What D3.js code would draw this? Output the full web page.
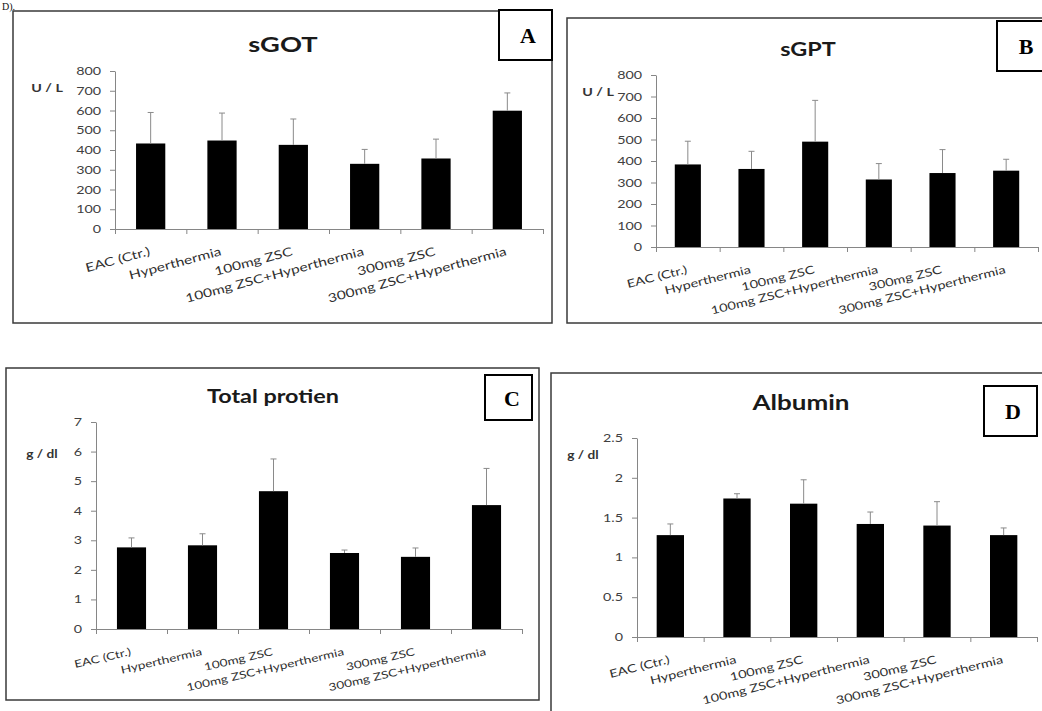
<!DOCTYPE html>
<html><head><meta charset="utf-8">
<script src="https://cdn.jsdelivr.net/npm/d3@7"></script>
<style>body{margin:0;background:#fff} svg{display:block}</style>
</head><body><svg id="c" width="1042" height="711"></svg>
<script>
// ---------- data ----------
const categories = ["EAC (Ctr.)", "Hyperthermia", "100mg ZSC", "100mg ZSC+Hyperthermia", "300mg ZSC", "300mg ZSC+Hyperthermia"];
const sgotMean = [433, 448, 426, 330, 357, 599];
const sgotSD   = [157, 139, 131, 73, 98, 90];
const sgptMean = [384, 363, 490, 314, 344, 355];
const sgptSD   = [108, 82, 192, 74, 109, 53];
const tpMean   = [2.76, 2.83, 4.66, 2.57, 2.44, 4.19];
const tpSD     = [0.32, 0.39, 1.09, 0.10, 0.30, 1.24];
const albMean  = [1.28, 1.74, 1.675, 1.42, 1.40, 1.28];
const albSD    = [0.14, 0.06, 0.30, 0.15, 0.30, 0.09];
const enzymeTicks  = [0, 100, 200, 300, 400, 500, 600, 700, 800];
const proteinTicks = [0, 1, 2, 3, 4, 5, 6, 7];
const albuminTicks = [0, 0.5, 1, 1.5, 2, 2.5];

// ---------- layout / style ----------
const SX = 1.3;
const FONT = "Lato, 'Open Sans', sans-serif";
const SERIF = "'Liberation Serif', 'Times New Roman', serif";
const svg = d3.select("#c");

svg.append("text").attr("x", 2).attr("y", 10).attr("font-family", SERIF)
  .attr("font-size", 10).attr("fill", "#111").text("D).");

const panels = [
  {title: "sGOT", letter: "A", unit: "U / L", mean: sgotMean, sd: sgotSD, ticks: enzymeTicks,
   border: [13, 11, 552, 323], box: [499, 10, 552, 60], letterX: 528, titleX: 283, titleY: 52, titleSize: 21,
   unitX: 47, unitY: 92, unitSize: 11, axisX: 115, axisX2: 543, y0: 229, yTop: 71, labelSize: 12, rot: 15},
  {title: "sGPT", letter: "B", unit: "U / L", mean: sgptMean, sd: sgptSD, ticks: enzymeTicks,
   border: [567, 18, 1050, 323], box: [997, 21, 1050, 71], letterX: 1026, titleX: 808, titleY: 56, titleSize: 18,
   unitX: 598, unitY: 96, unitSize: 11, axisX: 656, axisX2: 1038, y0: 247, yTop: 75, labelSize: 11.2, rot: 14},
  {title: "Total protien", letter: "C", unit: "g / dl", mean: tpMean, sd: tpSD, ticks: proteinTicks,
   border: [6, 368, 539, 700], box: [485, 375, 532, 420], letterX: 512, titleX: 273, titleY: 403, titleSize: 18,
   unitX: 42, unitY: 458, unitSize: 10.5, axisX: 96, axisX2: 522, y0: 629, yTop: 422, labelSize: 10.5, rot: 13},
  {title: "Albumin", letter: "D", unit: "g / dl", mean: albMean, sd: albSD, ticks: albuminTicks,
   border: [551, 373, 1050, 720], box: [984, 386, 1037, 436], letterX: 1013, titleX: 801, titleY: 410, titleSize: 20,
   unitX: 583, unitY: 459, unitSize: 10.5, axisX: 637, axisX2: 1037, y0: 637, yTop: 438, labelSize: 11.2, rot: 14}
];

panels.forEach(p => {
  const g = svg.append("g");
  // panel border
  g.append("rect").attr("x", p.border[0]).attr("y", p.border[1])
    .attr("width", p.border[2] - p.border[0]).attr("height", p.border[3] - p.border[1])
    .attr("fill", "#fff").attr("stroke", "#3a3a3a").attr("stroke-width", 1.5);

  // title
  g.append("text").attr("transform", `translate(${p.titleX},${p.titleY}) scale(${SX},1)`)
    .attr("text-anchor", "middle").attr("font-family", FONT).attr("font-weight", "bold")
    .attr("font-size", p.titleSize).attr("fill", "#1a1a1a").text(p.title);

  // unit
  g.append("text").attr("transform", `translate(${p.unitX},${p.unitY}) scale(${SX},1)`)
    .attr("text-anchor", "middle").attr("font-family", FONT).attr("font-weight", "bold")
    .attr("font-size", p.unitSize).attr("fill", "#333").text(p.unit);

  const top = p.ticks[p.ticks.length - 1];
  const y = d3.scaleLinear().domain([0, top]).range([p.y0, p.yTop]);
  const x = d3.scaleBand().domain(categories).range([p.axisX, p.axisX2])
    .paddingInner(0.59).paddingOuter(0.295);
  const xEdge = d3.scaleLinear().domain([0, categories.length]).range([p.axisX, p.axisX2]);

  // y axis
  const ya = g.append("g").attr("transform", `translate(${p.axisX},0)`)
    .call(d3.axisLeft(y).tickValues(p.ticks).tickSize(5).tickSizeOuter(0).tickFormat(d => String(d)));
  ya.select(".domain").attr("stroke", "#868686");
  ya.selectAll(".tick line").attr("stroke", "#868686");
  ya.selectAll(".tick text").attr("font-family", FONT).attr("font-size", 11).attr("fill", "#404040")
    .attr("x", -14 / SX).attr("transform", `scale(${SX},1)`);

  // x axis (ticks at category boundaries)
  const xa = g.append("g").attr("transform", `translate(0,${p.y0})`)
    .call(d3.axisBottom(xEdge).ticks(categories.length).tickSize(5).tickSizeOuter(0).tickFormat(""));
  xa.select(".domain").attr("stroke", "#868686");
  xa.selectAll(".tick line").attr("stroke", "#868686");

  // bars
  g.selectAll("rect.bar").data(p.mean).enter().append("rect").attr("class", "bar")
    .attr("x", (d, i) => x(categories[i])).attr("width", x.bandwidth())
    .attr("y", d => y(d)).attr("height", d => p.y0 - y(d)).attr("fill", "#000");

  // error bars (upper only)
  const eb = g.selectAll("g.err").data(p.mean).enter().append("g").attr("class", "err")
    .attr("stroke", "#8a8a8a").attr("stroke-width", 1);
  eb.append("line").attr("x1", (d, i) => x(categories[i]) + x.bandwidth() / 2)
    .attr("x2", (d, i) => x(categories[i]) + x.bandwidth() / 2)
    .attr("y1", d => y(d)).attr("y2", (d, i) => y(d + p.sd[i]));
  eb.append("line").attr("x1", (d, i) => x(categories[i]) + x.bandwidth() / 2 - 3)
    .attr("x2", (d, i) => x(categories[i]) + x.bandwidth() / 2 + 3)
    .attr("y1", (d, i) => y(d + p.sd[i])).attr("y2", (d, i) => y(d + p.sd[i]));

  // category labels
  g.selectAll("text.cat").data(categories).enter().append("text").attr("class", "cat")
    .attr("transform", d => `translate(${x(d) + x.bandwidth() / 2},${p.y0 + 26}) rotate(${-p.rot}) scale(${SX},1)`)
    .attr("text-anchor", "end").attr("font-family", FONT).attr("font-size", p.labelSize)
    .attr("fill", "#303030").text(d => d);

  // letter box
  g.append("rect").attr("x", p.box[0]).attr("y", p.box[1])
    .attr("width", p.box[2] - p.box[0]).attr("height", p.box[3] - p.box[1])
    .attr("fill", "#fff").attr("stroke", "#000").attr("stroke-width", 2);
  g.append("text").attr("x", p.letterX).attr("y", (p.box[1] + p.box[3]) / 2 + 8)
    .attr("text-anchor", "middle").attr("font-family", SERIF).attr("font-weight", "bold")
    .attr("font-size", 22).attr("fill", "#000").text(p.letter);
});
</script></body></html>
